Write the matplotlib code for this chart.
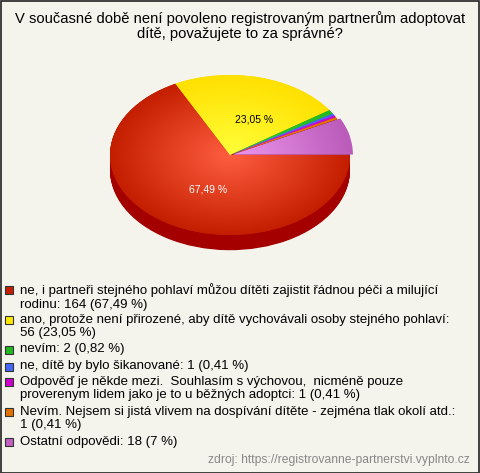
import numpy as np
import matplotlib
matplotlib.use("Agg")
import matplotlib.pyplot as plt
from matplotlib.patches import Rectangle
from matplotlib.colors import to_rgb

plt.rcParams['font.family'] = ['Liberation Sans', 'DejaVu Sans']

title = "V současné době není povoleno registrovaným partnerům adoptovat\ndítě, považujete to za správné?"
labels = [
    "ne, i partneři stejného pohlaví můžou dítěti zajistit řádnou péči a milující\nrodinu: 164 (67,49 %)",
    "ano, protože není přirozené, aby dítě vychovávali osoby stejného pohlaví:\n56 (23,05 %)",
    "nevím: 2 (0,82 %)",
    "ne, dítě by bylo šikanované: 1 (0,41 %)",
    "Odpověď je někde mezi.  Souhlasím s výchovou,  nicméně pouze\nproverenym lidem jako je to u běžných adoptci: 1 (0,41 %)",
    "Nevím. Nejsem si jistá vlivem na dospívání dítěte - zejména tlak okolí atd.:\n1 (0,41 %)",
    "Ostatní odpovědi: 18 (7 %)",
]
counts = [164, 56, 2, 1, 1, 1, 18]
pct_labels = ["67,49 %", "23,05 %", "", "", "", "", ""]
colors_edge = ["#c41e00", "#ffe000", "#22b822", "#4466ff", "#cc00cc", "#e07000", "#bb5cbb"]
colors_center = ["#ff5e40", "#ffff3a", "#33cc33", "#5577ff", "#dd22dd", "#f08010", "#ee98ee"]
legend_colors = ["#c41e00", "#ffe800", "#22b822", "#4466ff", "#cc00cc", "#e07000", "#c060c0"]
side_color = "#a50000"
source = "zdroj: https://registrovanne-partnerstvi.vyplnto.cz"

BG = "#f4f3ec"
W, H = 480, 473
fig = plt.figure(figsize=(W / 100, H / 100), dpi=100, facecolor=BG)

# pie axes (top face ellipse: x 110..350, y 75..235 px; depth ~15 px)
depth = 0.19
ax = fig.add_axes([110 / W, (H - 235 - 80 * depth) / H, 240 / W, (160 + 80 * depth) / H])
ax.set_facecolor("none")
explode = [0, 0, 0, 0, 0, 0, 0.025]

# side (depth) by stacking pies
nstep = 24
for k in range(nstep, 0, -1):
    ax.pie(counts, colors=[side_color] * len(counts), startangle=0, counterclock=False,
           center=(0, -depth * k / nstep), radius=1,
           wedgeprops=dict(linewidth=0))

wedges, texts = ax.pie(counts, colors=colors_edge, startangle=0, counterclock=False,
                       radius=1, explode=explode, wedgeprops=dict(linewidth=0))

# radial gradients clipped to wedges
n = 400
xs = np.linspace(-1.05, 1.05, n)
ys = np.linspace(-1.05, 1.05, n)
X, Y = np.meshgrid(xs, ys)
R = np.clip(np.sqrt(X ** 2 + Y ** 2), 0, 1)[..., None]
for w, c0, c1 in zip(wedges, colors_center, colors_edge):
    a = np.array(to_rgb(c0))
    b = np.array(to_rgb(c1))
    img = a * (1 - R) + b * R
    im = ax.imshow(img, extent=(-1.05, 1.05, -1.05, 1.05), origin="lower",
                   aspect="auto", interpolation="bilinear", zorder=w.get_zorder() + 0.1)
    im.set_clip_path(w)

ax.set_aspect("auto")
ax.set_xlim(-1, 1)
ax.set_ylim(-1 - depth, 1)
ax.axis("off")

# percentage labels
ax.text(-0.18, -0.43, pct_labels[0], color="white", fontsize=7.5, ha="center", va="center", zorder=10)
ax.text(0.20, 0.45, pct_labels[1], color="black", fontsize=7.5, ha="center", va="center", zorder=10)

# title
fig.text(0.5, 1 - 26 / H, title, ha="center", va="center", fontsize=10.6, linespacing=1.05)

# legend
line_y = [290, 320, 349.5, 366.5, 382, 412, 442]
for lab, col, y in zip(labels, legend_colors, line_y):
    fig.patches.append(Rectangle((5 / W, 1 - (y + 4) / H), 8 / W, 8 / H,
                                 transform=fig.transFigure, facecolor=col,
                                 edgecolor="#333333", linewidth=0.8))
    fig.text(20 / W, 1 - (y - 6.5) / H, lab, ha="left", va="top",
             fontsize=9.5, linespacing=1.12)

fig.text(470 / W, 1 - 460 / H, source, ha="right", va="center", fontsize=8.7, color="#888888")

# outer frame
fig.patches.append(Rectangle((0.5 / W, 0.5 / H), (W - 1.5) / W, (H - 1.5) / H,
                             transform=fig.transFigure, fill=False,
                             edgecolor="#222222", linewidth=1.2))

fig.savefig("out.png", dpi=100, facecolor=BG)
